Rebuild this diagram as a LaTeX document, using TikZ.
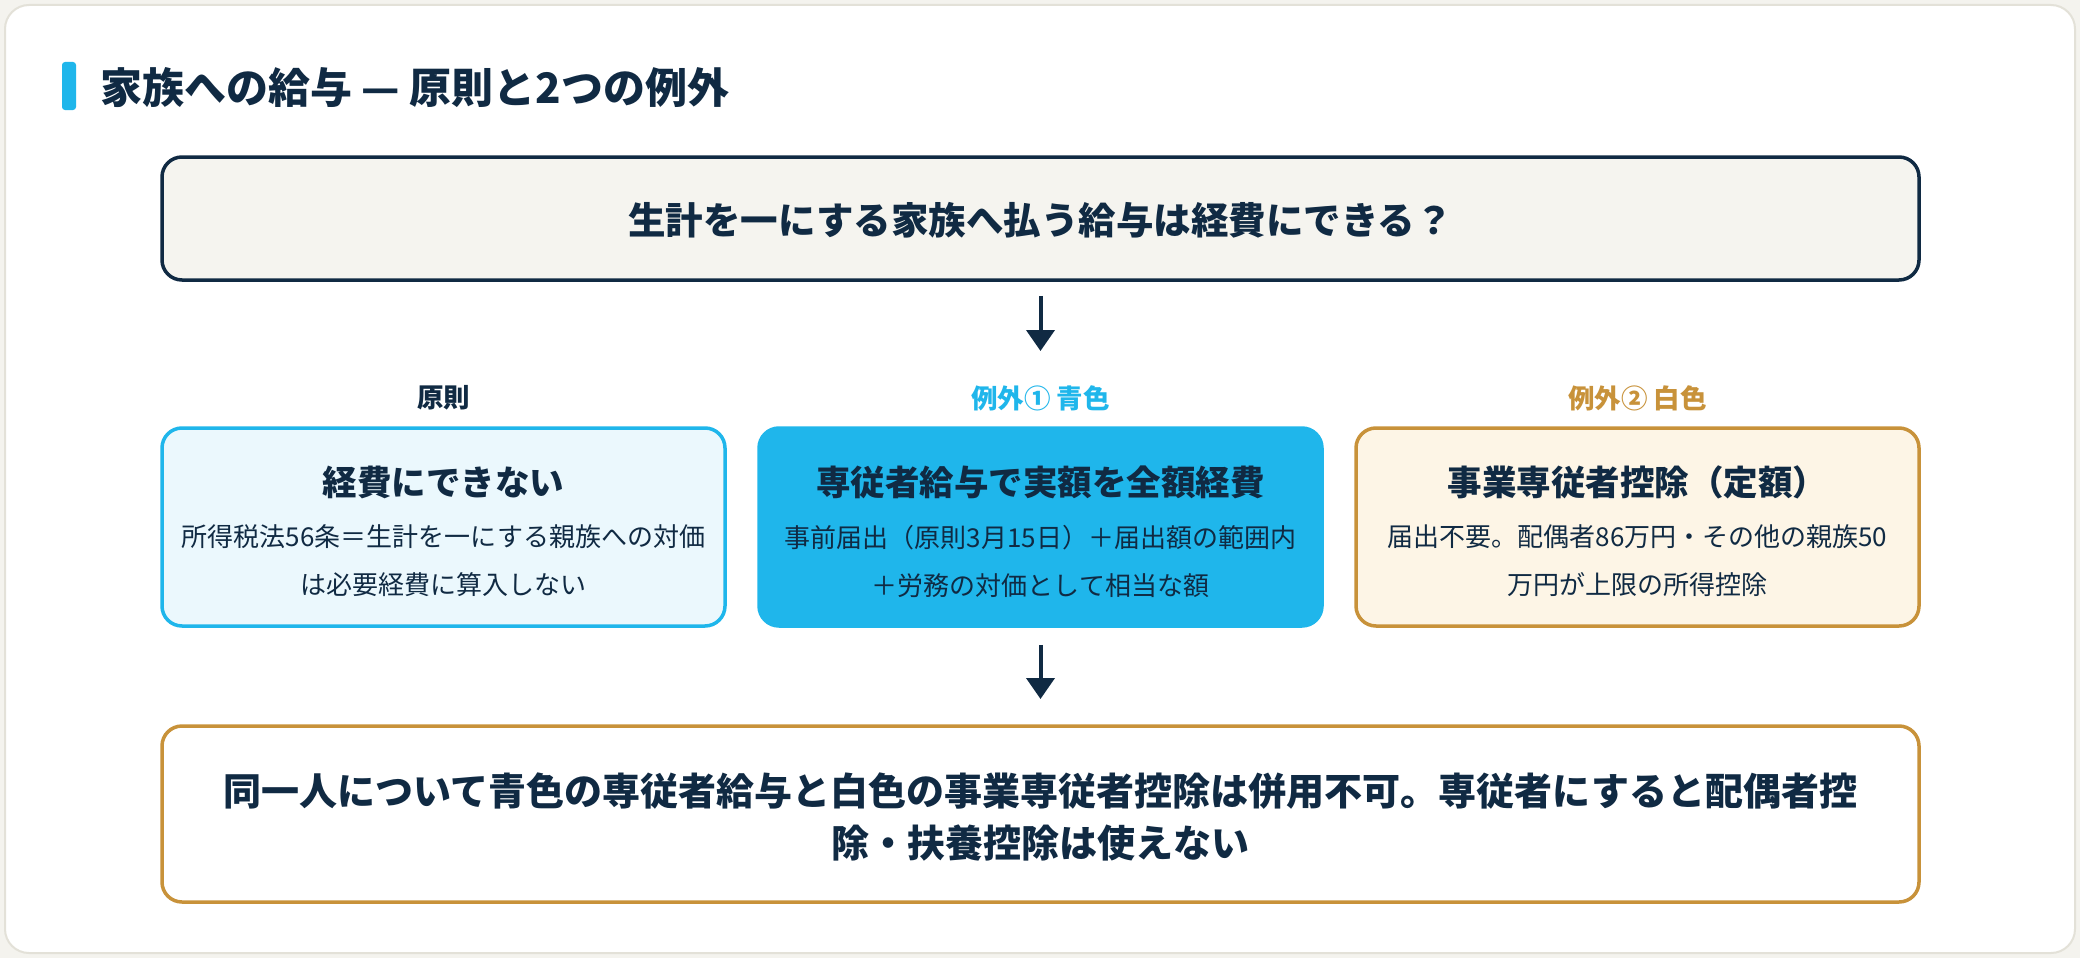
\documentclass[tikz,border=0pt]{standalone}
\usepackage{fontspec}
\setmainfont{Noto Sans CJK JP}
\usetikzlibrary{arrows.meta}
\definecolor{navy}{HTML}{102A43}
\definecolor{sky}{HTML}{1FB6EB}
\definecolor{skyfill}{HTML}{EBF8FD}
\definecolor{gold}{HTML}{C8923A}
\definecolor{goldfill}{HTML}{FDF5E6}
\definecolor{qfill}{HTML}{F5F4EF}
\definecolor{cardline}{HTML}{E3E1D8}
\definecolor{pagebg}{HTML}{F4F3EE}
\tikzset{
  boxbase/.style={rectangle, rounded corners=20pt, line width=3.5pt, minimum height=198pt, minimum width=563pt, inner sep=0pt},
  txt/.style={inner sep=0pt, text=navy},
  headline/.style={txt, font=\bfseries\fontsize{34.5}{40}\selectfont},
  bodytext/.style={txt, align=center, font=\fontsize{26}{48}\selectfont},
  colhead/.style={inner sep=0pt, font=\bfseries\fontsize{26.5}{30}\selectfont},
  arr/.style={draw=navy, line width=4pt, -{Triangle[width=28pt,length=21pt]}}
}
\begin{document}
\begin{tikzpicture}[x=1pt,y=-1pt]
\useasboundingbox (0,0) rectangle (2080,958);
\fill[pagebg] (0,0) rectangle (2080,958);
\draw[cardline, fill=white, line width=2pt, rounded corners=24pt] (5,5) rectangle (2075,953);

% title
\fill[sky, rounded corners=3pt] (62,62) rectangle (76,110);
\node[txt, anchor=west, font=\bfseries\fontsize{42}{48}\selectfont] (title) at (100,88) {家族への給与 — 原則と2つの例外};

% question
\node[boxbase, draw=navy, fill=qfill, minimum width=1757pt, minimum height=123pt] (top) at (1040.5,218.5) {};
\node[txt, font=\bfseries\fontsize{37.5}{44}\selectfont] (qtext) at (1040.5,220) {生計を一にする家族へ払う給与は経費にできる？};

% column labels
\node[colhead, text=navy] (lab1) at (443.5,398) {原則};
\node[colhead, text=sky] (lab2) at (1040.5,398) {例外① 青色};
\node[colhead, text=gold] (lab3) at (1637.5,398) {例外② 白色};

% three boxes
\node[boxbase, draw=sky, fill=skyfill] (b1) at (443.5,527) {};
\node[boxbase, draw=sky, fill=sky] (b2) at (1040.5,527) {};
\node[boxbase, draw=gold, fill=goldfill] (b3) at (1637.5,527) {};

\node[headline] (h1) at (443.5,482) {経費にできない};
\node[bodytext] (t1) at (443.5,561) {所得税法56条＝生計を一にする親族への対価\\は必要経費に算入しない};

\node[headline] (h2) at (1040.5,482) {専従者給与で実額を全額経費};
\node[bodytext] (t2) at (1040.5,561) {事前届出（原則3月15日）＋届出額の範囲内\\＋労務の対価として相当な額};

\node[headline] (h3) at (1637.5,482) {事業専従者控除（定額）};
\node[bodytext] (t3) at (1637.5,561) {届出不要。配偶者86万円・その他の親族50\\万円が上限の所得控除};

% bottom box
\node[boxbase, draw=gold, fill=white, minimum width=1757pt, minimum height=176pt] (bot) at (1040.5,814) {};
\node[txt, align=center, font=\bfseries\fontsize{38}{52}\selectfont] (btext) at (1040.5,817) {同一人について青色の専従者給与と白色の事業専従者控除は併用不可。専従者にすると配偶者控\\除・扶養控除は使えない};

% arrows
\coordinate (a1end) at (1040.5,351);
\coordinate (a2end) at (1040.5,699);
\draw[arr] ([yshift=-14pt]top.south) -- (a1end);
\draw[arr] ([yshift=-17pt]b2.south) -- (a2end);
\end{tikzpicture}
\end{document}
